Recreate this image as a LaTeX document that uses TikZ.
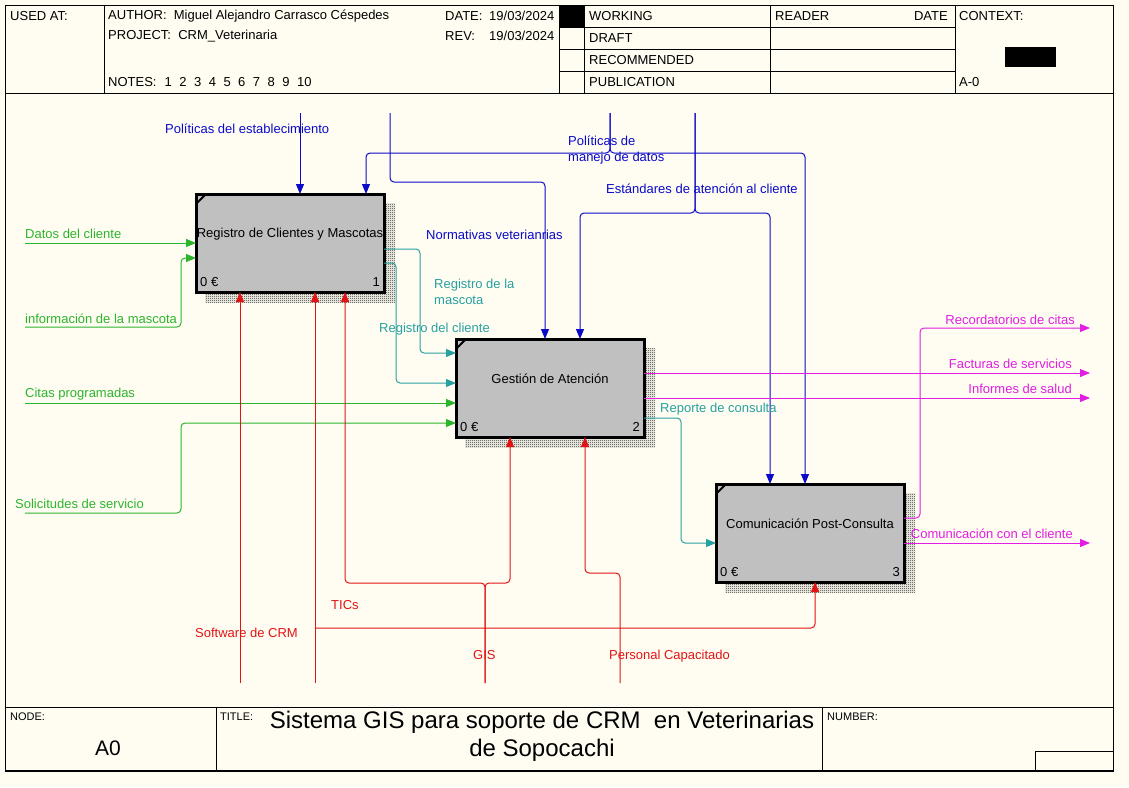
\documentclass[tikz,border=0pt]{standalone}
\usepackage{fontspec}
\setmainfont{Liberation Sans}
\usetikzlibrary{arrows.meta,patterns}
\pgfdeclarepatternformonly{checker}{\pgfpointorigin}{\pgfqpoint{2pt}{2pt}}{\pgfqpoint{2pt}{2pt}}{%
  \pgfpathrectangle{\pgfpointorigin}{\pgfqpoint{1pt}{1pt}}%
  \pgfpathrectangle{\pgfqpoint{1pt}{1pt}}{\pgfqpoint{1pt}{1pt}}%
  \pgfusepath{fill}}
\definecolor{bg}{RGB}{255,253,242}
\definecolor{cblue}{RGB}{10,10,200}
\definecolor{cgreen}{RGB}{45,180,45}
\definecolor{cteal}{RGB}{40,160,160}
\definecolor{cmag}{RGB}{225,30,225}
\definecolor{cred}{RGB}{225,20,20}
\definecolor{boxgray}{RGB}{192,192,192}
\begin{document}
\begin{tikzpicture}[x=1pt,y=-1pt,
  fnt/.style={font=\fontsize{13}{16}\selectfont, inner sep=0pt},
  lbl/.style={fnt, anchor=west},
  lblr/.style={fnt, anchor=east},
  small/.style={font=\fontsize{11}{13}\selectfont, inner sep=0pt, anchor=west},
  arr/.style={-{Triangle[length=10pt,width=8pt]}, line width=1pt, rounded corners=4pt},
  func/.style={draw=black, line width=3pt, fill=boxgray, minimum width=188pt, minimum height=98pt, inner sep=0pt, outer sep=0pt, anchor=north west},
  shadowbox/.style={pattern=checker, pattern color=black!85},
  frm/.style={line width=1pt, draw=black}]
\fill[bg] (0,0) rectangle (1129,787);
\useasboundingbox (0,0) rectangle (1129,787);

% ---------- frame ----------
\draw[frm] (5,5) rectangle (1113,771);
\draw[frm] (5,93) -- (1113,93);
\draw[frm] (5,707) -- (1113,707);
\draw[frm] (104,5) -- (104,93);
\draw[frm] (559,5) -- (559,93);
\draw[frm] (584,5) -- (584,93);
\draw[frm] (770,5) -- (770,93);
\draw[frm] (955,5) -- (955,93);
\foreach \yy in {27,49,71} \draw[frm] (559,\yy) -- (955,\yy);
\fill[black] (559,5) rectangle (584,27);
\fill[black] (1005,47) rectangle (1056,67);
\draw[frm] (216,707) -- (216,771);
\draw[frm] (822,707) -- (822,771);
\draw[frm] (1035,751) -- (1035,771);
\draw[frm] (1035,751) -- (1113,751);
\draw[line width=2pt] (5,771) -- (1113,771);

% ---------- header text ----------
\node[lbl] (usedat) at (10,16) {USED AT:};
\node[lbl] (author) at (108,16) {AUTHOR:\ \ Miguel Alejandro Carrasco Céspedes};
\node[lbl] (project) at (108,36) {PROJECT:\ \ CRM\_Veterinaria};
\node[lbl] (notes) at (108,82) {NOTES:\hspace{8pt}1\hspace{7.5pt}2\hspace{7.5pt}3\hspace{7.5pt}4\hspace{7.5pt}5\hspace{7.5pt}6\hspace{7.5pt}7\hspace{7.5pt}8\hspace{7.5pt}9\hspace{7.5pt}10};
\node[lbl] (datel) at (445,16) {DATE:};
\node[lbl] (datev) at (489,16) {19/03/2024};
\node[lbl] (revl) at (445,36) {REV:};
\node[lbl] (revv) at (489,36) {19/03/2024};
\node[lbl] (working) at (589,16) {WORKING};
\node[lbl] (draft) at (589,38) {DRAFT};
\node[lbl] (recom) at (589,60) {RECOMMENDED};
\node[lbl] (publ) at (589,82) {PUBLICATION};
\node[lbl] (reader) at (775,16) {READER};
\node[lblr] (rdate) at (948,16) {DATE};
\node[lbl] (context) at (959,16) {CONTEXT:};
\node[lbl] (azero) at (959,82) {A-0};

% ---------- footer text ----------
\node[small] (nodel) at (10,717) {NODE:};
\node[font=\fontsize{21}{24}\selectfont, inner sep=0pt] (nodev) at (108,748) {A0};
\node[small] (titlel) at (220,717) {TITLE:};
\node[font=\fontsize{24}{28}\selectfont, inner sep=0pt, align=center] (title) at (542,736) {Sistema GIS para soporte de CRM\ \ en Veterinarias\\de Sopocachi};
\node[small] (numberl) at (827,717) {NUMBER:};

% ---------- shadows ----------
\fill[shadowbox] (205,203) rectangle (395,302);
\fill[shadowbox] (465,348) rectangle (655,447);
\fill[shadowbox] (725,493) rectangle (915,592);

% ---------- function boxes ----------
\node[func] (b1) at (196,194) {};
\node[func] (b2) at (456,339) {};
\node[func] (b3) at (716,484) {};
\foreach \b/\n in {b1/1,b2/2,b3/3}{
  \draw[line width=2pt] ([yshift=-10pt]\b.north west) -- ([xshift=10pt]\b.north west);
  \node[lbl] (\b cost) at ([xshift=4pt,yshift=10pt]\b.south west) {0 €};
  \node[lblr] (\b num) at ([xshift=-4pt,yshift=10pt]\b.south east) {\n};
}
\node[fnt] (t1) at ([yshift=9pt]b1.center) {Registro de Clientes y Mascotas};
\node[fnt] (t2) at ([yshift=9pt]b2.center) {Gestión de Atención};
\node[fnt] (t3) at ([yshift=9pt]b3.center) {Comunicación Post-Consulta};

% ---------- controls (blue) ----------
\coordinate (pe) at (300,113);
\coordinate (nv) at (390,113);
\coordinate (pm) at (610,113);
\coordinate (ea) at (695,113);
\draw[arr,cblue] (pe) -- (pe |- b1.north);
\draw[arr,cblue] (nv) |- (545,182) -- (545,0 |- b2.north);
\draw[arr,cblue] (pm) |- (366,153) -- (366,0 |- b1.north);
\draw[arr,cblue] (pm) |- (805,153) -- (805,0 |- b3.north);
\draw[arr,cblue] (ea) |- (580,213) -- (580,0 |- b2.north);
\draw[arr,cblue] (ea) |- (770,213) -- (770,0 |- b3.north);
\node[lbl,text=cblue] (lpe) at (165,129) {Políticas del establecimiento};
\node[fnt,text=cblue,anchor=west,align=left] (lpm) at (568,150) {Políticas de\\manejo de datos};
\node[lbl,text=cblue] (lea) at (606,189) {Estándares de atención al cliente};
\node[lbl,text=cblue] (lnv) at (426,235) {Normativas veterianrias};

% ---------- inputs (green) ----------
\coordinate (i1) at (25,243);
\coordinate (i2) at (25,327);
\coordinate (i3) at (25,403);
\coordinate (i4) at (25,513);
\draw[arr,cgreen] (i1) -- (i1 -| b1.west);
\draw[arr,cgreen] (i2) -| (181,258) -- (b1.west |- 0,258);
\draw[arr,cgreen] (i3) -- (i3 -| b2.west);
\draw[arr,cgreen] (i4) -| (181,423) -- (b2.west |- 0,423);
\node[lbl,text=cgreen] (li1) at (25,234) {Datos del cliente};
\node[lbl,text=cgreen] (li2) at (25,319) {información de la mascota};
\node[lbl,text=cgreen] (li3) at (25,394) {Citas programadas};
\node[lbl,text=cgreen] (li4) at (15,504) {Solicitudes de servicio};

% ---------- internal (teal) ----------
\draw[arr,cteal] (b1.east |- 0,249) -| (420,353) -- (b2.west |- 0,353);
\draw[arr,cteal] (b1.east |- 0,263) -| (396,383) -- (b2.west |- 0,383);
\draw[arr,cteal] (b2.east |- 0,418) -| (681,543) -- (b3.west |- 0,543);
\node[fnt,text=cteal,anchor=west,align=left] (lrm) at (434,292) {Registro de la\\mascota};
\node[lbl,text=cteal] (lrc) at (379,329) {Registro del cliente};
\node[lbl,text=cteal] (lrep) at (660,409) {Reporte de consulta};

% ---------- outputs (magenta) ----------
\coordinate (o1) at (1090,328);
\coordinate (o2) at (1090,373);
\coordinate (o3) at (1090,398);
\coordinate (o4) at (1090,543);
\draw[arr,cmag] (b3.east |- 0,518) -| (920,328) -- (o1);
\draw[arr,cmag] (b2.east |- o2) -- (o2);
\draw[arr,cmag] (b2.east |- o3) -- (o3);
\draw[arr,cmag] (b3.east |- o4) -- (o4);
\node[lblr,text=cmag] (lo1) at (1075,320) {Recordatorios de citas};
\node[lblr,text=cmag] (lo2) at (1072,364) {Facturas de servicios};
\node[lblr,text=cmag] (lo3) at (1072,389) {Informes de salud};
\node[lblr,text=cmag] (lo4) at (1073,534) {Comunicación con el cliente};

% ---------- mechanisms (red) ----------
\coordinate (m1) at (240,683);
\coordinate (m2) at (315,683);
\coordinate (m3) at (485,683);
\coordinate (m4) at (620,683);
\coordinate (m2b) at (315,628);
\draw[arr,cred] (m1) -- (m1 |- b1.south);
\draw[arr,cred] (m2) -- (m2 |- b1.south);
\draw[arr,cred] (m2b) -| (815,0 |- b3.south);
\draw[arr,cred] (m3) |- (345,583) -- (345,0 |- b1.south);
\draw[arr,cred] (m3) |- (510,583) -- (510,0 |- b2.south);
\draw[arr,cred] (m4) |- (585,573) -- (585,0 |- b2.south);
\node[lbl,text=cred] (lm1) at (331,605) {TICs};
\node[lbl,text=cred] (lm2) at (195,633) {Software de CRM};
\node[lbl,text=cred] (lm3) at (473,655) {GIS};
\node[lbl,text=cred] (lm4) at (609,656) {Personal Capacitado};
\end{tikzpicture}
\end{document}
